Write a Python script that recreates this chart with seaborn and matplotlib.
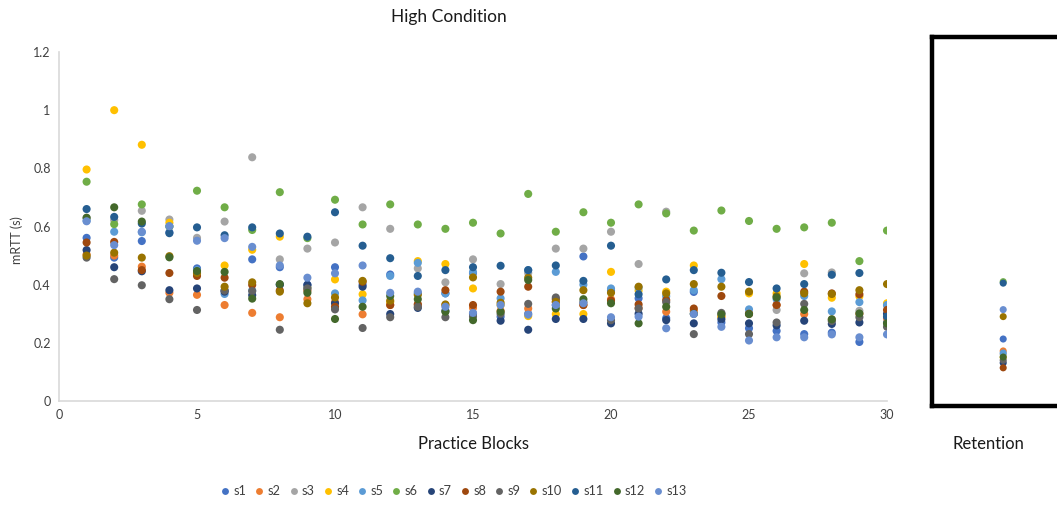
import numpy as np
import pandas as pd
import matplotlib
matplotlib.use("Agg")
import matplotlib.pyplot as plt
import seaborn as sns

subjects = ["s1", "s2", "s3", "s4", "s5", "s6", "s7", "s8", "s9", "s10", "s11", "s12", "s13"]
blocks = list(range(1, 31))

s1 = [.561,.493,.550,.58,.456,.38,.487,.46,.40,.460,.40,.435,.37,.37,.44,.290,.30,.33,.497,.38,.353,.285,.375,.27,.250,.241,.230,.235,.203,.27]
s2 = [.504,.50,.462,.372,.365,.330,.303,.288,.350,.34,.298,.33,.33,.33,.32,.31,.318,.34,.33,.35,.32,.307,.31,.29,.30,.33,.299,.28,.30,.284]
s3 = [.63,.622,.654,.624,.561,.617,.838,.487,.524,.545,.666,.592,.456,.408,.487,.402,.44,.524,.524,.582,.471,.651,.30,.30,.30,.313,.439,.442,.31,.33]
s4 = [.796,1.0,.881,.613,.44,.466,.52,.565,.39,.418,.367,.34,.481,.471,.387,.33,.292,.299,.299,.444,.38,.376,.466,.29,.370,.37,.471,.355,.36,.336]
s5 = [.62,.582,.58,.60,.45,.368,.38,.40,.39,.370,.346,.430,.475,.370,.443,.353,.45,.444,.40,.387,.39,.36,.381,.419,.315,.35,.361,.308,.340,.330]
s6 = [.754,.608,.676,.60,.723,.666,.588,.718,.56,.692,.607,.676,.607,.592,.613,.576,.712,.582,.649,.613,.676,.645,.586,.655,.619,.592,.597,.613,.481,.586]
s7 = [.519,.460,.446,.381,.387,.376,.364,.40,.399,.336,.393,.299,.32,.31,.30,.276,.245,.282,.282,.267,.30,.278,.267,.281,.267,.26,.276,.265,.270,.30]
s8 = [.545,.547,.45,.440,.430,.424,.399,.38,.38,.324,.41,.330,.333,.381,.330,.376,.393,.35,.330,.345,.332,.347,.318,.361,.30,.330,.376,.370,.367,.313]
s9 = [.493,.419,.398,.350,.313,.38,.378,.245,.387,.315,.251,.288,.324,.288,.29,.30,.334,.356,.34,.278,.318,.34,.230,.303,.230,.270,.334,.275,.288,.255]
s10 = [.50,.510,.493,.498,.44,.393,.408,.376,.336,.356,.413,.345,.365,.332,.425,.338,.424,.341,.381,.372,.393,.370,.402,.393,.376,.36,.37,.368,.381,.402]
s11 = [.660,.633,.61,.577,.597,.570,.597,.576,.565,.649,.534,.491,.430,.450,.460,.465,.450,.466,.413,.534,.367,.418,.450,.441,.409,.387,.402,.434,.440,.29]
s12 = [.630,.666,.617,.494,.447,.444,.352,.402,.372,.282,.324,.361,.350,.307,.278,.307,.416,.318,.350,.336,.267,.324,.30,.298,.299,.356,.313,.281,.301,.267]
s13 = [.618,.536,.582,.601,.551,.560,.530,.466,.424,.439,.466,.372,.376,.324,.303,.330,.297,.330,.336,.288,.290,.250,.299,.255,.208,.219,.219,.229,.219,.229]

retention = [.213, .172, .16, .15, .165, .41, .131, .114, .14, .290, .405, .151, .314]

colors = ["#4472C4", "#ED7D31", "#A5A5A5", "#FFC000", "#5B9BD5", "#70AD47",
          "#264478", "#9E480E", "#636363", "#997300", "#255E91", "#43682B", "#698ED0"]

series = [s1, s2, s3, s4, s5, s6, s7, s8, s9, s10, s11, s12, s13]
df = pd.DataFrame([
    {"subject": subj, "block": b, "mrtt": v}
    for subj, vals in zip(subjects, series)
    for b, v in zip(blocks, vals)
])
df_ret = pd.DataFrame({"subject": subjects, "phase": 0, "mrtt": retention})

sns.set_theme(style="white")
plt.rcParams["font.family"] = ["Lato", "DejaVu Sans"]

fig = plt.figure(figsize=(10.57, 5.08), dpi=100)
W, H = 1057, 508
ax = fig.add_axes([59 / W, 1 - 401 / H, (887 - 59) / W, (401 - 52) / H])

sns.scatterplot(data=df, x="block", y="mrtt", hue="subject", hue_order=subjects,
                palette=colors, s=34, edgecolor="none", linewidth=0, ax=ax, legend=True)

ax.set_xlim(0, 30)
ax.set_ylim(0, 1.2)
ax.set_xticks([0, 5, 10, 15, 20, 25, 30])
ax.set_yticks([0, 0.2, 0.4, 0.6, 0.8, 1.0, 1.2])
ax.set_yticklabels(["0", "0.2", "0.4", "0.6", "0.8", "1", "1.2"])
ax.tick_params(axis="both", length=0, labelsize=9, colors="#404040", pad=6)
for side in ["top", "right"]:
    ax.spines[side].set_visible(False)
for side in ["left", "bottom"]:
    ax.spines[side].set_color("#D9D9D9")
    ax.spines[side].set_linewidth(1.2)
ax.set_xlabel("")
ax.set_ylabel("")

handles, labels = ax.get_legend_handles_labels()
ax.legend_.remove()
fig.legend(handles, labels, loc="center", bbox_to_anchor=(454 / W, 1 - 491 / H),
           ncol=13, frameon=False, fontsize=9.2, handlelength=0.6, handletextpad=0.35,
           columnspacing=0.72, markerscale=0.85, labelcolor="#404040")

fig.text(449 / W, 1 - 17 / H, "High Condition", ha="center", va="center",
         fontsize=12.5, color="#1a1a1a")
fig.text(17 / W, 1 - 240 / H, "mRTT (s)", ha="center", va="center",
         rotation=90, fontsize=9, color="#404040")
fig.text(473 / W, 1 - 444 / H, "Practice Blocks", ha="center", va="center",
         fontsize=12, color="#1a1a1a")
fig.text(988 / W, 1 - 444 / H, "Retention", ha="center", va="center",
         fontsize=12, color="#1a1a1a")

# Retention panel
ax2 = fig.add_axes([932 / W, 1 - 406 / H, 160 / W, (406 - 37) / H])
sns.scatterplot(data=df_ret, x="phase", y="mrtt", hue="subject", hue_order=subjects,
                palette=colors, s=26, edgecolor="none", linewidth=0, ax=ax2, legend=False)
ax2.set_xlim(-0.445, 0.555)
# match main scale: 0 at pixel 401, 291 px per unit
ax2.set_ylim((401 - 406) / 291, (401 - 37) / 291)
ax2.set_xticks([])
ax2.set_yticks([])
ax2.set_xlabel("")
ax2.set_ylabel("")
for side in ["top", "right", "left", "bottom"]:
    ax2.spines[side].set_color("black")
    ax2.spines[side].set_linewidth(3.2)

fig.savefig("out.png", dpi=100)
